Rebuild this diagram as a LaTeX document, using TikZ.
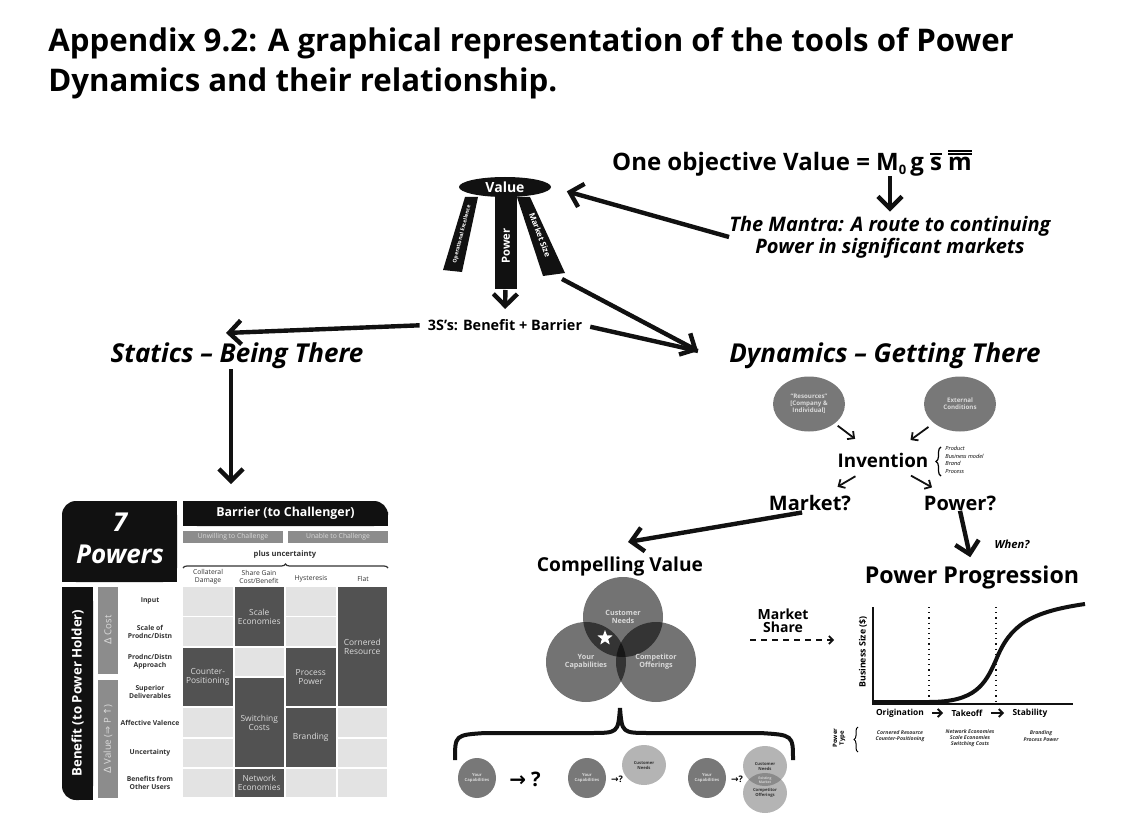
\documentclass[tikz,border=0pt]{standalone}
\usepackage{fontspec}
\setmainfont{Open Sans}
\newfontfamily\symfont{DejaVu Sans}
\usepackage{tikz}
\usetikzlibrary{arrows.meta,positioning,shapes.geometric,calc,decorations.pathreplacing}
\definecolor{ink}{HTML}{111111}
\definecolor{cellgray}{HTML}{E3E3E3}
\definecolor{blockgray}{HTML}{525252}
\definecolor{bargray}{HTML}{8C8C8C}
\definecolor{bubblegray}{HTML}{787878}
\definecolor{lightbubble}{HTML}{B4B4B4}
\definecolor{overlapgray}{HTML}{8A8A8A}
\definecolor{paletext}{HTML}{DADADA}
\definecolor{labelgray}{HTML}{333333}
\newcommand{\fsz}[2]{\fontsize{#1}{#2}\selectfont}
\newcommand{\onebar}[1]{\vbox{\hrule height 0.9pt\kern1pt\hbox{#1}}}
\newcommand{\twobar}[1]{\vbox{\hrule height 0.9pt\kern0.7pt\hrule height 0.9pt\kern1pt\hbox{#1}}}
% dark block of the 7 Powers grid: column, first row, last row, text, name
\newcommand{\powblock}[5]{%
  \fill[blockgray] (183+51.5*#1,587+30.3*#2) rectangle (232.5+51.5*#1,615.5+30.3*#3);
  \node[blocktxt] (#5) at (207.75+51.5*#1,{601.25+15.15*(#2+#3)}) {#4};}
\tikzset{
  bigarr/.style={draw=ink,line width=2.2pt,-{Straight Barb[length=6pt,width=12pt]}},
  bigline/.style={draw=ink,line width=2.2pt},
  thinarr/.style={draw=ink,line width=0.9pt,-{Straight Barb[length=2.5pt,width=5pt]}},
  tinyarr/.style={draw=ink,line width=1pt,-{Straight Barb[length=2pt,width=4pt]}},
  dasharr/.style={draw=ink,line width=0.8pt,dash pattern=on 3pt off 2.5pt,
                  -{Straight Barb[length=2pt,width=4pt]}},
  headtxt/.style={font=\fsz{13}{15}\bfseries\itshape,inner sep=0pt},
  boldtxt/.style={font=\bfseries,inner sep=0pt,align=center},
  legtxt/.style={text=white,inner sep=0pt},
  rowtxt/.style={text=labelgray,font=\fsz{3.4}{4.1}\bfseries,align=center,inner sep=0pt},
  coltxt/.style={text=labelgray,font=\fsz{3.4}{3.8},align=center,inner sep=0pt},
  blocktxt/.style={text=paletext,font=\fsz{4.2}{4.5},align=center,inner sep=0pt},
  graybar/.style={fill=bargray,text=paletext,font=\fsz{3.4}{4},inner sep=0pt,
                  minimum width=50pt,minimum height=6pt},
  bubble/.style={ellipse,fill=bubblegray,text=paletext,font=\fsz{3.1}{3.5}\bfseries,
                 align=center,inner sep=0pt,minimum width=36pt,minimum height=27.5pt},
  venn/.style={circle,fill=black,fill opacity=0.55,text opacity=1,text=paletext,
               font=\fsz{3.6}{4}\bfseries,align=center,inner sep=0pt,minimum size=40pt},
  capcircle/.style={ellipse,fill=bubblegray,text=paletext,font=\fsz{2.1}{2.5}\bfseries,
                    align=center,inner sep=0pt,minimum width=19pt,minimum height=20pt},
  needcircle/.style={ellipse,fill=lightbubble,text=labelgray,font=\fsz{2.1}{2.5}\bfseries,
                     align=center,inner sep=0pt,minimum width=22pt,minimum height=20pt},
  typetxt/.style={text=labelgray,font=\fsz{2.6}{3.1}\bfseries\itshape,align=center,inner sep=0pt},
  axistxt/.style={font=\fsz{4.2}{5}\bfseries,inner sep=0pt}
}
\begin{document}
\begin{tikzpicture}[x=0.5pt,y=-0.5pt]
  \useasboundingbox (0,0) rectangle (1136,840);
  % title
  \node[anchor=north west,align=left,inner sep=0pt,font=\fsz{15.6}{20}\bfseries] (title) at (48,27)
    {Appendix 9.2: A graphical representation of the tools of Power\\Dynamics and their relationship.};

  % objective and mantra
  \node[boldtxt,font=\fsz{12}{14}\bfseries] (obj) at (792,163)
    {One objective Value = M\raisebox{-2.2pt}{\fsz{6.5}{7}0}\,g \onebar{s} \twobar{m}};
  \node[inner sep=0pt,align=center,font=\fsz{10}{8.8}\bfseries\itshape] (mantra) at (890,237)
    {The Mantra: A route to continuing\\Power in significant markets};
  \draw[bigarr,shorten >=2pt] (obj.south -| mantra.north) -- (mantra.north);

  % the stool
  \fill[ink] (465,197) -- (478,197) -- (462,272) -- (443,270) -- cycle;
  \fill[ink] (495,195) rectangle (517,289);
  \fill[ink] (517,197) -- (530,197) -- (565,273) -- (543,276) -- cycle;
  \node[ellipse,fill=ink,text=white,inner sep=0pt,minimum width=46pt,minimum height=10pt,
        font=\fsz{7}{8}\bfseries] (value) at (505,187) {Value};
  \node[legtxt,font=\fsz{2.6}{3}\bfseries,rotate=76] (opex) at (462,234) {Operational Excellence};
  \node[legtxt,font=\fsz{5.6}{6}\bfseries,rotate=90] (pwr) at (506,246) {Power};
  \node[legtxt,font=\fsz{4}{4.5}\bfseries,rotate=-69] (msize) at (540,235) {Market Size};
  \node[boldtxt,font=\fsz{7.2}{8}\bfseries] (bs) at (505,325) {3S’s: Benefit + Barrier};
  \draw[bigarr,shorten <=22pt,shorten >=5pt] (pwr.center) -- (bs.north);
  \draw[bigarr,shorten >=8pt] (mantra.west) -- (value.east);

  % statics and dynamics
  \node[headtxt] (statics) at (237,356) {Statics – Being There};
  \node[headtxt] (dynamics) at (885,356) {Dynamics – Getting There};
  \coordinate (stin) at (226,333);
  \coordinate (mktleg) at (562,279);
  \coordinate (dynin) at (698,351);
  \coordinate (tblin) at (231,484);
  \draw[bigarr,shorten <=4pt] (bs.west) -- (stin);
  \draw[bigline,shorten <=4pt] (bs.east) -- (dynin);
  \draw[bigarr] (mktleg) -- (dynin);
  \draw[bigarr] (statics.south -| tblin) -- (tblin);

  % 7 Powers table
  \fill[ink,rounded corners=7pt] (62,501) rectangle (177,582);
  \fill[ink] (110,501) rectangle (177,582);
  \fill[ink] (62,540) rectangle (177,582);
  \node[inner sep=0pt,align=center,text=white,font=\fsz{13}{16}\bfseries\itshape] (sevenp) at (120,538) {7\\Powers};
  \fill[ink,rounded corners=7pt] (183,501) rectangle (388,526);
  \fill[ink] (183,501) rectangle (340,526);
  \fill[ink] (183,515) rectangle (388,526);
  \node[inner sep=0pt,text=white,font=\fsz{6.2}{7}\bfseries] (barrier) at (285.5,513.5) {Barrier (to Challenger)};
  \node[graybar] (unwill) at (233,537) {Unwilling to Challenge};
  \node[graybar] (unable) at (338,537) {Unable to Challenge};
  \node[coltxt,font=\fsz{3.8}{4.4}\bfseries] (plus) at (285,555) {plus uncertainty};
  \draw[decorate,decoration={brace,amplitude=2pt},line width=0.6pt,labelgray] (183,568) -- (388,568);
  \node[coltxt] (colcd) at (208,577) {Collateral\\Damage};
  \node[coltxt] (colsg) at (259,577) {Share Gain\\Cost/Benefit};
  \node[coltxt] (colhy) at (311,579) {Hysteresis};
  \node[coltxt] (colfl) at (363,579) {Flat};
  \foreach \c in {0,...,3}
    \foreach \r in {0,...,6}
      \fill[cellgray] (183+51.5*\c,587+30.3*\r) rectangle ++(49.5,28.5);
  \powblock{1}{0}{1}{Scale\\Economies}{blkscale}
  \powblock{3}{0}{3}{Cornered\\Resource}{blkcorner}
  \powblock{0}{2}{3}{Counter-\\Positioning}{blkcounter}
  \powblock{2}{2}{3}{Process\\Power}{blkprocess}
  \powblock{1}{3}{5}{Switching\\Costs}{blkswitch}
  \powblock{2}{4}{5}{Branding}{blkbrand}
  \powblock{1}{6}{6}{Network\\Economies}{blknetwork}
  \node[rowtxt] (rowin) at (150,601.25) {Input};
  \node[rowtxt] (rowsc) at (150,631.55) {Scale of\\Prodnc/Distn};
  \node[rowtxt] (rowap) at (150,661.85) {Prodnc/Distn\\Approach};
  \node[rowtxt] (rowsu) at (150,692.15) {Superior\\Deliverables};
  \node[rowtxt] (rowaf) at (150,722.45) {Affective Valence};
  \node[rowtxt] (rowun) at (150,752.75) {Uncertainty};
  \node[rowtxt] (rowbe) at (150,783.05) {Benefits from\\Other Users};
  \fill[ink,rounded corners=7pt] (62,587) rectangle (93,800);
  \fill[ink] (62,587) rectangle (93,760);
  \fill[ink] (80,587) rectangle (93,800);
  \node[inner sep=0pt,text=white,rotate=90,font=\fsz{6.6}{7}\bfseries] (benefit) at (77.5,693) {Benefit (to Power Holder)};
  \fill[bargray] (98,587) rectangle (118,674);
  \fill[bargray] (98,680) rectangle (118,798);
  \node[inner sep=0pt,text=paletext,rotate=90,font=\fsz{4.8}{5}] (dcost) at (108,630) {{\symfont Δ} Cost};
  \node[inner sep=0pt,text=paletext,rotate=90,font=\fsz{4.8}{5}] (dvalue) at (108,739) {{\symfont Δ} Value ({\symfont ⇒} P {\symfont ↑})};

  % getting there
  \node[bubble] (res) at (809,404) {“Resources”\\{}[Company \&\\Individual]};
  \node[bubble] (ext) at (960,404) {External\\Conditions};
  \node[boldtxt,font=\fsz{9.4}{11}\bfseries] (inv) at (883,460) {Invention};
  \draw[decorate,decoration={brace,amplitude=2.5pt},line width=0.6pt] (941,476) -- (941,447);
  \node[anchor=west,inner sep=0pt,align=left,font=\fsz{2.8}{3.75}\itshape] (invlist) at (945,460)
    {Product\\Business model\\Brand\\Process};
  \node[boldtxt,font=\fsz{10}{11}\bfseries] (market) at (810,503) {Market?};
  \node[boldtxt,font=\fsz{10}{11}\bfseries] (power) at (960,503) {Power?};
  \draw[thinarr,shorten <=18pt,shorten >=17.5pt] (res.center) -- (inv.center);
  \draw[thinarr,shorten <=19.5pt,shorten >=17pt] (ext.center) -- (inv.center);
  \draw[thinarr,shorten <=16pt,shorten >=16pt] (inv.center) -- (market.center);
  \draw[thinarr,shorten <=16pt,shorten >=16pt] (inv.center) -- (power.center);

  % compelling value
  \node[boldtxt,font=\fsz{9.6}{11}\bfseries] (cv) at (620,567) {Compelling Value};
  \coordinate (cvin) at (628,542);
  \draw[bigarr,shorten <=4pt] (market.south) -- (cvin);
  \node[venn] (cn) at (623,617) {Customer\\Needs};
  \node[venn] (yc) at (586,662) {Your\\Capabilities};
  \node[venn] (co) at (656,662) {Competitor\\Offerings};
  \node[star,star points=5,star point ratio=2.4,fill=white,inner sep=0pt,minimum size=8pt] (star) at (605,638) {};
  \draw[line width=2pt,ink] (455,760) .. controls (455,735) .. (485,733) -- (590,733)
    .. controls (618,733) .. (620,708) .. controls (622,733) .. (650,733) -- (760,733)
    .. controls (793,735) .. (793,760);
  \node[capcircle] (yca) at (477,778) {Your\\Capabilities};
  \node[boldtxt,font=\fsz{10}{10}\bfseries] (qa) at (525,779) {{\symfont →} ?};
  \node[capcircle] (ycb) at (587,778) {Your\\Capabilities};
  \node[boldtxt,font=\fsz{4.5}{5}\bfseries] (qb) at (617,779) {{\symfont →}?};
  \node[needcircle] (cnb) at (644,765) {Customer\\Needs};
  \node[capcircle] (ycc) at (707,778) {Your\\Capabilities};
  \node[boldtxt,font=\fsz{4.5}{5}\bfseries] (qc) at (737,779) {{\symfont →}?};
  \node[needcircle] (cnc) at (765,766) {Customer\\Needs};
  \node[needcircle] (coc) at (765,793) {Competitor\\Offerings};
  \begin{scope}
    \clip (765,766) ellipse [x radius=22,y radius=20];
    \fill[overlapgray] (765,793) ellipse [x radius=22,y radius=20];
  \end{scope}
  \node[boldtxt,text=lightbubble!60!white,font=\fsz{1.7}{2}\bfseries] (exist) at (765,780) {Existing\\Market};

  % market share
  \node[boldtxt,font=\fsz{7}{6.5}\bfseries] (ms) at (783,621) {Market\\Share};
  \coordinate (msa) at (750,640);
  \coordinate (msb) at (834,640);
  \draw[dasharr] (msa) -- (msb);

  % power progression
  \node[boldtxt,font=\fsz{11.6}{13}\bfseries] (pp) at (972,577) {Power Progression};
  \node[boldtxt,font=\fsz{5.6}{6}\bfseries\itshape] (when) at (1012,544) {When?};
  \draw[bigarr,shorten >=4pt] (power.south) -- (pp.north);
  \draw[ink,line width=0.8pt] (873,607) -- (873,704) -- (1073,704);
  \draw[ink,line width=0.6pt,dotted] (929,607) -- (929,704);
  \draw[ink,line width=0.6pt,dotted] (996,607) -- (996,704);
  \draw[ink,line width=2pt] (873,702) -- (929,702) .. controls (975,702) and (985,685) .. (996,660)
    .. controls (1010,625) and (1030,612) .. (1085,604);
  \node[axistxt,rotate=90,font=\fsz{4.4}{5}\bfseries] (bsize) at (863,652) {Business Size (\$)};
  \node[axistxt] (orig) at (900,713) {Origination};
  \node[axistxt] (take) at (967,713) {Takeoff};
  \node[axistxt] (stab) at (1030,713) {Stability};
  \draw[tinyarr,shorten <=4pt,shorten >=4pt] (orig) -- (take);
  \draw[tinyarr,shorten <=4pt,shorten >=4pt] (take) -- (stab);
  \node[inner sep=0pt,rotate=90,align=center,font=\fsz{3}{3.4}\bfseries] (ptype) at (839,738) {Power\\Type};
  \draw[decorate,decoration={brace,amplitude=2pt},line width=0.5pt] (858,752) -- (858,727);
  \node[typetxt] (typea) at (900,736) {Cornered Resource\\Counter-Positioning};
  \node[typetxt] (typeb) at (970,738) {Network Economies\\Scale Economies\\Switching Costs};
  \node[typetxt] (typec) at (1041,736) {Branding\\Process Power};
\end{tikzpicture}
\end{document}
